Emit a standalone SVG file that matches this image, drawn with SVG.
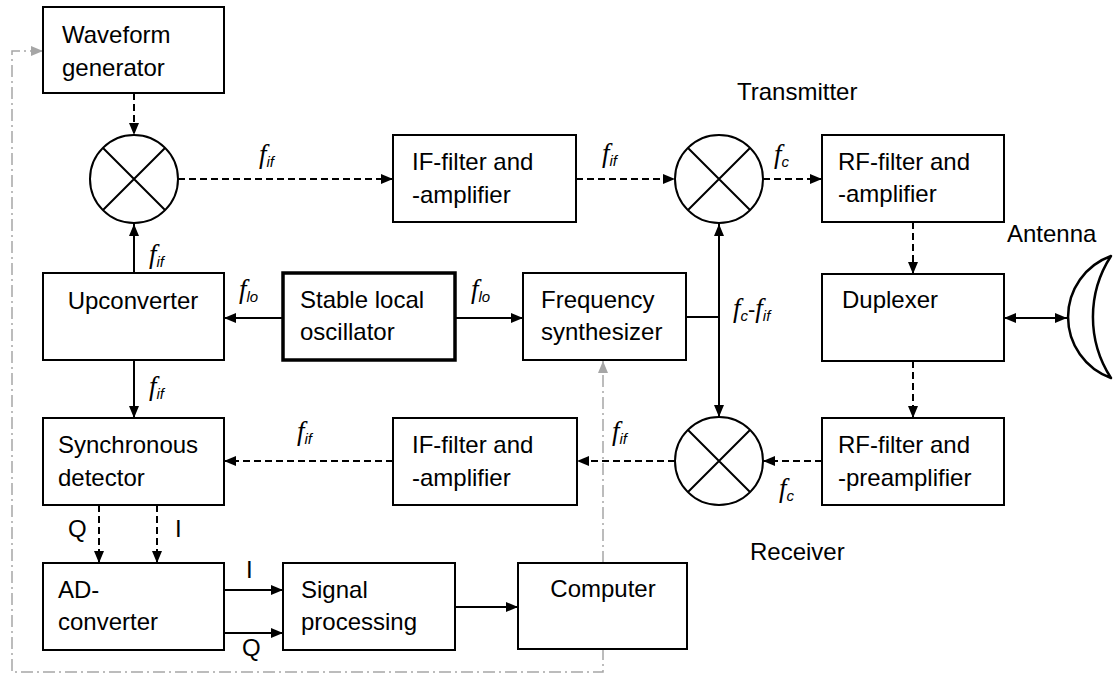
<svg xmlns="http://www.w3.org/2000/svg" width="1117" height="678" viewBox="0 0 1117 678">
<defs>
<marker id="ah" viewBox="0 0 12 10" refX="12" refY="5" markerWidth="12" markerHeight="10" markerUnits="userSpaceOnUse" orient="auto-start-reverse"><path d="M0,0 L12,5 L0,10 Z" fill="#000"/></marker>
<marker id="ahg" viewBox="0 0 12 10" refX="12" refY="5" markerWidth="12" markerHeight="10" markerUnits="userSpaceOnUse" orient="auto-start-reverse"><path d="M0,0 L12,5 L0,10 Z" fill="#a6a6a6"/></marker>
</defs>
<style>
.box{fill:#fff;stroke:#000;stroke-width:2}
.thick{stroke-width:3.5}
.mix{fill:#fff;stroke:#000;stroke-width:2}
.t{font-family:"Liberation Sans",Arial,sans-serif;font-size:24px;fill:#000}
.f{font-family:"Liberation Serif",serif;font-style:italic;font-size:27px;fill:#000}
.s{font-family:"Liberation Sans",Arial,sans-serif;font-style:italic;font-size:15px}
.sol{stroke:#000;stroke-width:2;fill:none;marker-end:url(#ah)}
.dsh{stroke:#000;stroke-width:2;fill:none;stroke-dasharray:7,4;marker-end:url(#ah)}
.gr{stroke:#a6a6a6;stroke-width:1.5;fill:none;stroke-dasharray:12,4,2,4;marker-end:url(#ahg)}
</style>
<rect width="1117" height="678" fill="#fff"/>

<g id="connectors">
<line class="dsh" x1="134" y1="93" x2="134" y2="135"/>
<line class="dsh" x1="178" y1="179" x2="393" y2="179"/>
<line class="dsh" x1="576" y1="179" x2="675" y2="179"/>
<line class="dsh" x1="763" y1="179" x2="822" y2="179"/>
<line class="dsh" x1="913" y1="222" x2="913" y2="274"/>
<line class="sol" x1="1004" y1="318" x2="1067" y2="318" style="marker-start:url(#ah)"/>
<line class="dsh" x1="913" y1="361" x2="913" y2="418"/>
<line class="dsh" x1="822" y1="461" x2="763" y2="461"/>
<line class="dsh" x1="675" y1="461" x2="577" y2="461"/>
<line class="dsh" x1="393" y1="461" x2="224" y2="461"/>
<line x1="686" y1="317" x2="719" y2="317" stroke="#000" stroke-width="2"/>
<line class="sol" x1="719" y1="224" x2="719" y2="417" style="marker-start:url(#ah)"/>
<line class="sol" x1="455" y1="318" x2="523" y2="318"/>
<line class="sol" x1="283" y1="318" x2="224" y2="318"/>
<line class="sol" x1="134" y1="273" x2="134" y2="224"/>
<line class="sol" x1="134" y1="360" x2="134" y2="418"/>
<line class="dsh" x1="99" y1="505" x2="99" y2="563"/>
<line class="dsh" x1="157" y1="505" x2="157" y2="563"/>
<line class="sol" x1="224" y1="590" x2="283" y2="590"/>
<line class="sol" x1="224" y1="633" x2="283" y2="633"/>
<line class="sol" x1="455" y1="607" x2="518" y2="607"/>
<line class="gr" x1="603" y1="563" x2="603" y2="361"/>
<polyline class="gr" points="603,648 603,672 12,672 12,51 43,51"/>
</g>

<g id="waveform"><rect class="box" x="43" y="7" width="181" height="86"/><text class="t" x="62" y="43">Waveform</text><text class="t" x="62" y="76">generator</text></g>
<g id="mixer1"><circle class="mix" cx="134" cy="179" r="44"/><path d="M103,148 L165,210 M165,148 L103,210" stroke="#000" stroke-width="2"/></g>
<g id="iffilter1"><rect class="box" x="393" y="135" width="183" height="87"/><text class="t" x="412" y="170">IF-filter and</text><text class="t" x="412" y="203">-amplifier</text></g>
<g id="mixer2"><circle class="mix" cx="719" cy="179" r="44"/><path d="M688,148 L750,210 M750,148 L688,210" stroke="#000" stroke-width="2"/></g>
<g id="rffilter1"><rect class="box" x="822" y="135" width="182" height="87"/><text class="t" x="838" y="170">RF-filter and</text><text class="t" x="838" y="202">-amplifier</text></g>
<g id="upconverter"><rect class="box" x="43" y="273" width="181" height="87"/><text class="t" x="133" y="309" text-anchor="middle">Upconverter</text></g>
<g id="oscillator"><rect class="box thick" x="283" y="273" width="172" height="87"/><text class="t" x="300" y="308">Stable local</text><text class="t" x="300" y="340">oscillator</text></g>
<g id="synth"><rect class="box" x="523" y="273" width="163" height="87"/><text class="t" x="541" y="308">Frequency</text><text class="t" x="541" y="340">synthesizer</text></g>
<g id="duplexer"><rect class="box" x="822" y="274" width="182" height="87"/><text class="t" x="842" y="308">Duplexer</text></g>
<g id="antenna"><path d="M1111,256 A64.8,64.8 0 0 0 1111,378 A112,112 0 0 1 1111,256 Z" fill="#fff" stroke="#000" stroke-width="2.5" stroke-linejoin="round"/></g>
<g id="sync"><rect class="box" x="43" y="418" width="181" height="87"/><text class="t" x="58" y="453">Synchronous</text><text class="t" x="58" y="486">detector</text></g>
<g id="iffilter2"><rect class="box" x="393" y="418" width="184" height="87"/><text class="t" x="412" y="453">IF-filter and</text><text class="t" x="412" y="486">-amplifier</text></g>
<g id="mixer3"><circle class="mix" cx="719" cy="461" r="44"/><path d="M688,430 L750,492 M750,430 L688,492" stroke="#000" stroke-width="2"/></g>
<g id="rffilter2"><rect class="box" x="822" y="418" width="182" height="87"/><text class="t" x="838" y="453">RF-filter and</text><text class="t" x="838" y="486">-preamplifier</text></g>
<g id="adc"><rect class="box" x="43" y="563" width="181" height="87"/><text class="t" x="58" y="598">AD-</text><text class="t" x="58" y="630">converter</text></g>
<g id="sigproc"><rect class="box" x="283" y="563" width="172" height="87"/><text class="t" x="301" y="598">Signal</text><text class="t" x="301" y="630">processing</text></g>
<g id="computer"><rect class="box" x="518" y="563" width="169" height="86"/><text class="t" x="603" y="597" text-anchor="middle">Computer</text></g>

<g id="labels">
<text class="t" x="737" y="100">Transmitter</text>
<text class="t" x="1007" y="242">Antenna</text>
<text class="t" x="750" y="560">Receiver</text>
<text class="t" x="68" y="537">Q</text>
<text class="t" x="175" y="537">I</text>
<text class="t" x="246" y="578">I</text>
<text class="t" x="242" y="656">Q</text>
<text class="f" x="259" y="163">f<tspan class="s" dy="4">if</tspan></text>
<text class="f" x="602" y="162">f<tspan class="s" dy="4">if</tspan></text>
<text class="f" x="774" y="163">f<tspan class="s" dy="4">c</tspan></text>
<text class="f" x="149" y="263">f<tspan class="s" dy="4">if</tspan></text>
<text class="f" x="239" y="298">f<tspan class="s" dy="4">lo</tspan></text>
<text class="f" x="471" y="298">f<tspan class="s" dy="4">lo</tspan></text>
<text class="f" x="149" y="395">f<tspan class="s" dy="4">if</tspan></text>
<text class="f" x="733" y="317">f<tspan class="s" dy="4">c</tspan><tspan dy="-4" style="font-style:normal;font-family:'Liberation Sans',sans-serif;font-size:22px">-</tspan>f<tspan class="s" dy="4">if</tspan></text>
<text class="f" x="297" y="440">f<tspan class="s" dy="4">if</tspan></text>
<text class="f" x="612" y="440">f<tspan class="s" dy="4">if</tspan></text>
<text class="f" x="779" y="497">f<tspan class="s" dy="4">c</tspan></text>
</g>
</svg>
